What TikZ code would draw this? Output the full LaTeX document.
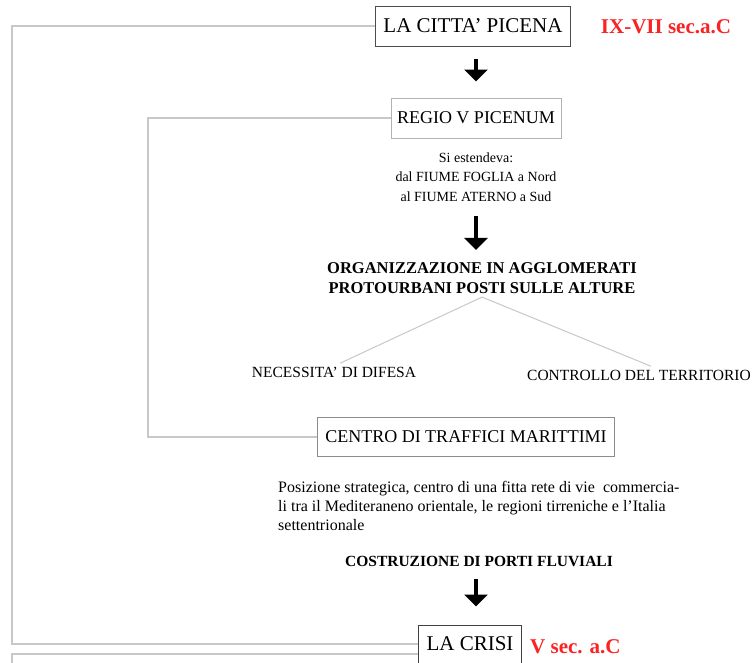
\documentclass[tikz,border=0pt]{standalone}
\usepackage{fontspec}
\setmainfont{Liberation Serif}
\usetikzlibrary{arrows.meta}

\definecolor{linea}{RGB}{200,200,200}
\definecolor{rosso}{RGB}{250,35,35}

\tikzset{
  box/.style={draw, line width=1pt, inner xsep=8pt, minimum height=40pt},
  freccia/.style={line width=3.5pt, -{Triangle[width=23pt,length=12pt]}},
  ciclo/.style={draw=linea, line width=1.5pt},
  ramo/.style={draw=linea, line width=1pt},
}

\begin{document}
\begin{tikzpicture}[x=1pt, y=-1pt]

  \clip (0,0) rectangle (754,662);
  \fill[white] (0,0) rectangle (754,662);

  % --- la citta' picena ---
  \node[box, draw=black!70, font=\fontsize{21}{25}\selectfont] (citta) at (473,26) {LA CITTA' PICENA};
  \node[text=rosso, font=\bfseries\fontsize{21}{25}\selectfont] (data1) at (666,27) {IX-VII sec.a.C};

  % --- regio v picenum ---
  \node[box, draw=black!30, inner xsep=6pt, font=\fontsize{18}{22}\selectfont] (regio) at (476,118) {REGIO V PICENUM};
  \node[align=center, font=\fontsize{14}{19.5}\selectfont] (estende) at (476,177)
    {Si estendeva:\\ dal FIUME FOGLIA a Nord\\ al FIUME ATERNO a Sud};

  % --- agglomerati ---
  \node[align=center, font=\bfseries\fontsize{16.5}{20}\selectfont] (org) at (482,278)
    {ORGANIZZAZIONE IN AGGLOMERATI\\ PROTOURBANI POSTI SULLE ALTURE};
  \node[font=\fontsize{15.5}{18}\selectfont] (difesa) at (334,372) {NECESSITA' DI DIFESA};
  \node[font=\fontsize{15.5}{18}\selectfont] (controllo) at (639,375) {CONTROLLO DEL TERRITORIO};

  % --- traffici ---
  \node[box, draw=black!45, minimum height=39pt, font=\fontsize{18}{22}\selectfont] (centro) at (466,437) {CENTRO DI TRAFFICI MARITTIMI};
  \node[anchor=west, align=left, inner sep=0pt, font=\fontsize{16}{19}\selectfont] (posiz) at (278,506)
    {Posizione strategica, centro di una fitta rete di vie\ \ commercia-\\
     li tra il Mediteraneno orientale, le regioni tirreniche e l'Italia\\
     settentrionale};
  \node[font=\bfseries\fontsize{15.5}{18}\selectfont] (costr) at (479,561) {COSTRUZIONE DI PORTI FLUVIALI};

  % --- la crisi ---
  \node[box, draw=black!75, minimum height=38pt, font=\fontsize{21}{25}\selectfont] (crisi) at (470,644) {LA CRISI};
  \node[anchor=west, inner sep=0pt, text=rosso, font=\bfseries\fontsize{21}{25}\selectfont] (data2) at (530,647) {V sec. a.C};

  % --- frecce ---
  \draw[freccia, shorten <=12pt, shorten >=16pt] (regio.north |- citta.south) -- (regio.north);
  \draw[freccia, shorten <=11pt, shorten >=9pt] (estende.south) -- (estende.south |- org.north);
  \draw[freccia, shorten <=9pt, shorten >=18pt] (costr.south -| estende.south) -- (estende.south |- crisi.north);

  % --- rami ---
  \draw[ramo] (org.south) -- ([xshift=6pt]difesa.north);
  \draw[ramo] (org.south) -- ([xshift=12pt]controllo.north);

  % --- cicli ---
  \coordinate (angoloA) at (12,26);
  \coordinate (angoloB) at (148,118);
  \coordinate (angoloC) at (12,670);
  \draw[ciclo] (citta.west) -- (angoloA) |- (crisi.west);
  \draw[ciclo] (regio.west) -- (angoloB) |- (centro.west);
  \draw[ciclo] ([yshift=-10pt]crisi.west) -| (angoloC);

\end{tikzpicture}
\end{document}
